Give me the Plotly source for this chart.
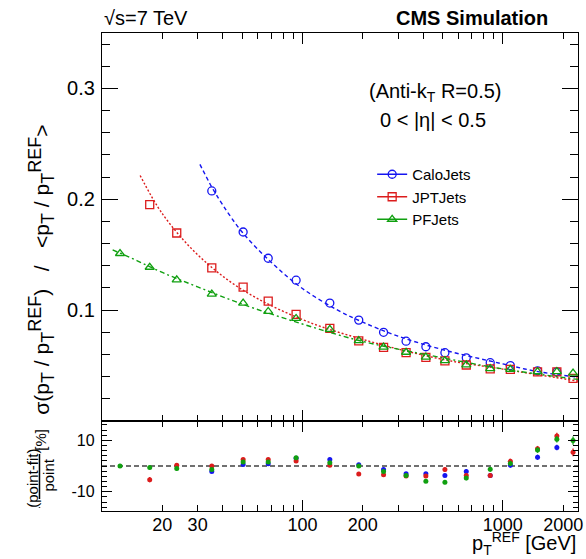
import plotly.graph_objects as go

# ---------------- data ----------------
pt_ref = [12.3, 17.3, 23.6, 35.3, 50.6, 67.5, 93, 137, 191, 254, 329, 413,
          514, 657, 865, 1090, 1490, 1860, 2240]

calo_pt = pt_ref[3:18]
calo_sigma = [0.2075, 0.1705, 0.1468, 0.127, 0.1064, 0.091, 0.080, 0.072,
              0.067, 0.0616, 0.057, 0.0526, 0.050, 0.0453, 0.0444]
calo_res = [-2.1, 0.6, 0.9, 3.0, 2.5, 0.5, -1.4, -3.0, -3.0, -3.7, -2.1,
            -3.7, 0.3, 3.4, 7.2]
calo_err = [0.6, 0.6, 0.6, 0.6, 0.6, 0.6, 0.6, 0.6, 0.7, 0.7, 0.8, 0.8,
            0.9, 1.0, 1.1]

jpt_pt = pt_ref[1:]
jpt_sigma = [0.1952, 0.1696, 0.1381, 0.1207, 0.1081, 0.0961, 0.0835, 0.0723,
             0.0664, 0.0616, 0.0574, 0.0543, 0.0505, 0.047, 0.0465, 0.0444,
             0.0444, 0.0384]
jpt_res = [-5.3, 0.3, 0.0, 2.5, 2.5, 1.9, 0.3, -3.1, -3.4, -3.9, -3.9, -1.4,
           -3.7, -3.7, 1.8, 6.7, 11.7, 5.3]
jpt_err = [1.0, 0.8, 0.6, 0.6, 0.6, 0.6, 0.6, 0.6, 0.6, 0.7, 0.7, 0.8,
           0.8, 0.9, 1.0, 1.1, 1.2, 1.5]

pf_pt = pt_ref
pf_sigma = [0.1511, 0.1387, 0.1273, 0.1144, 0.1063, 0.0988, 0.0925, 0.0826,
            0.0725, 0.0667, 0.062, 0.0576, 0.0545, 0.0507, 0.0472, 0.0466,
            0.0445, 0.0446, 0.0432]
pf_res = [0.0, -0.6, -1.0, -1.4, 1.6, 1.6, 3.2, 1.3, 0.0, -2.1, -3.7, -5.9,
          -6.3, -4.7, -1.3, 1.0, 6.2, 10.4, 9.9]
pf_err = [0.6, 0.7, 0.8, 0.6, 0.6, 0.6, 0.6, 0.6, 0.6, 0.6, 0.7, 0.7,
          0.8, 0.8, 0.9, 1.0, 1.1, 1.3, 1.6]

# fitted curves
calo_fit_pt = [30.8, 35.3, 40, 50, 70, 100, 150, 200, 300, 500, 1000, 1500, 2370]
calo_fit_sigma = [0.2315, 0.211, 0.195, 0.1705, 0.143, 0.1195, 0.100, 0.0892,
                  0.0765, 0.0644, 0.0515, 0.0445, 0.0395]
jpt_fit_pt = [15.5, 20, 30, 50, 100, 200, 500, 1000, 2370]
jpt_fit_sigma = [0.2215, 0.187, 0.150, 0.1185, 0.0915, 0.0736, 0.0556,
                 0.0468, 0.036]
pf_fit_pt = [11.3, 15, 20, 30, 50, 100, 200, 500, 1000, 2370]
pf_fit_sigma = [0.1543, 0.1445, 0.134, 0.121, 0.1055, 0.0875, 0.0718,
                0.0570, 0.047, 0.0375]

series_names = ["CaloJets", "JPTJets", "PFJets"]

x_major = [20, 30, 100, 200, 1000, 2000]
x_major_text = ["20", "30", "100", "200", "1000", "2000"]
x_minor = [40, 50, 60, 70, 80, 90, 300, 400, 500, 600, 700, 800, 900]
x_decades = [100, 1000]

# ---------------- styling ----------------
W, H = 586, 559
ML, MR, MT, MB = 102, 3, 33, 48
PW, PH = W - ML - MR, H - MT - MB
SPLIT = (511 - 421) / PH
FONT = "Liberation Sans, Arial, Helvetica, sans-serif"
BLUE, RED, GREEN = "#1515f0", "#dc1c1c", "#10a010"


def px(xp):
    return (xp - ML) / PW


def py(yp):
    return (H - MB - yp) / PH


fig = go.Figure()

styles = [
    (calo_pt, calo_sigma, calo_res, calo_err, calo_fit_pt, calo_fit_sigma,
     BLUE, "circle-open", "4px,3px"),
    (jpt_pt, jpt_sigma, jpt_res, jpt_err, jpt_fit_pt, jpt_fit_sigma,
     RED, "square-open", "2px,2px"),
    (pf_pt, pf_sigma, pf_res, pf_err, pf_fit_pt, pf_fit_sigma,
     GREEN, "triangle-up-open", "5px,3px,2px,3px"),
]

for name, (xs, ys, rs, es, fx, fy, col, sym, dash) in zip(series_names, styles):
    fig.add_trace(go.Scatter(x=fx, y=fy, mode="lines", xaxis="x", yaxis="y",
                             line=dict(color=col, width=1.4, dash=dash,
                                       shape="spline", smoothing=1.0),
                             showlegend=False, hoverinfo="skip"))
    fig.add_trace(go.Scatter(x=xs, y=ys, mode="markers", xaxis="x", yaxis="y",
                             marker=dict(symbol=sym, size=8, color=col,
                                         line=dict(width=1.3, color=col)),
                             showlegend=False, name=name))
    fig.add_trace(go.Scatter(x=[None], y=[None], mode="lines+markers",
                             xaxis="x", yaxis="y", name=name,
                             line=dict(color=col, width=1.3),
                             marker=dict(symbol=sym, size=8, color=col,
                                         line=dict(width=1.3, color=col))))

for name, (xs, ys, rs, es, fx, fy, col, sym, dash) in zip(series_names, styles):
    fig.add_trace(go.Scatter(x=xs, y=rs, mode="markers", xaxis="x2", yaxis="y2",
                             marker=dict(symbol="circle", size=5, color=col),
                             error_y=dict(type="data", array=es, color=col,
                                          thickness=1.3, width=0),
                             showlegend=False, name=name))

axis_common = dict(showline=True, linecolor="black", linewidth=1.3,
                   mirror="ticks", ticks="inside", tickcolor="black",
                   tickwidth=1.2, showgrid=False, zeroline=False)

xcommon = dict(type="log", range=[1.0, 3.375], tickvals=x_major,
               ticktext=x_major_text, ticklen=6,
               minor=dict(tickvals=x_minor, ticks="inside", ticklen=6,
                          tickcolor="black", tickwidth=1.2, showgrid=False),
               **axis_common)

fig.update_layout(
    width=W, height=H,
    margin=dict(l=ML, r=MR, t=MT, b=MB, pad=0),
    paper_bgcolor="white", plot_bgcolor="white",
    font=dict(family=FONT, color="black", size=18),
    xaxis=dict(domain=[0, 1], anchor="y", showticklabels=False, **xcommon),
    yaxis=dict(domain=[SPLIT, 1], anchor="x", range=[0, 0.35],
               tickvals=[0.1, 0.2, 0.3], ticktext=["0.1", "0.2", "0.3"],
               ticklen=16, tickfont=dict(size=20), ticklabelstandoff=2,
               minor=dict(dtick=0.02, ticks="inside", ticklen=8,
                          tickcolor="black", tickwidth=1.2, showgrid=False),
               **axis_common),
    xaxis2=dict(domain=[0, 1], anchor="y2", tickfont=dict(size=18),
                ticklabelstandoff=-3, ticklabeloverflow="allow", **xcommon),
    yaxis2=dict(domain=[0, SPLIT], anchor="x2", range=[-17.5, 17.5],
                tickvals=[-10, 10], ticktext=["-10", "10"], ticklen=10,
                tickfont=dict(size=16), ticklabelstandoff=3,
                minor=dict(dtick=2, tick0=0, ticks="inside", ticklen=5,
                           tickcolor="black", tickwidth=1.2, showgrid=False),
                **axis_common),
    xaxis3=dict(type="log", range=[1.0, 3.375], overlaying="x", anchor="y",
                tickvals=x_decades, showticklabels=False, ticks="inside",
                ticklen=11, tickcolor="black", tickwidth=1.2, mirror="ticks",
                showline=False, showgrid=False, zeroline=False),
    xaxis4=dict(type="log", range=[1.0, 3.375], overlaying="x2", anchor="y2",
                tickvals=x_decades, showticklabels=False, ticks="inside",
                ticklen=11, tickcolor="black", tickwidth=1.2, mirror="ticks",
                showline=False, showgrid=False, zeroline=False),
    legend=dict(x=px(375), y=py(158), xanchor="left", yanchor="top",
                bgcolor="rgba(0,0,0,0)", borderwidth=0,
                font=dict(size=15, family=FONT), itemwidth=30,
                tracegroupgap=0),
    showlegend=True,
)

# dummy traces so overlay axes get drawn
fig.add_trace(go.Scatter(x=[None], y=[None], xaxis="x3", yaxis="y",
                         showlegend=False, hoverinfo="skip"))
fig.add_trace(go.Scatter(x=[None], y=[None], xaxis="x4", yaxis="y2",
                         showlegend=False, hoverinfo="skip"))

fig.add_shape(type="line", xref="x2 domain", yref="y2", x0=0, x1=1, y0=0, y1=0,
              line=dict(color="#707070", width=2, dash="5px,3px"), layer="below")

NB = "\u00a0"
SUBT = "<sub><span style='font-size:18px'>T</span></sub>"
SUPR = "<sup><span style='font-size:18px'>REF</span></sup>"
ytitle = ("σ(p" + SUBT + NB + "/" + NB + "p" + SUBT + SUPR + ")" + NB * 2 +
          " / " + NB * 2 + "&lt;p" + SUBT + NB + "/" + NB + "p" + SUBT + SUPR +
          "&gt;")

ann = [
    dict(text="√s=7 TeV", x=px(102), y=py(18), xanchor="left", font=dict(size=20)),
    dict(text="<b>CMS Simulation</b>", x=px(555), y=py(18), xanchor="right",
         font=dict(size=20)),
    dict(text="(Anti-k<sub>T</sub> R=0.5)", x=px(439), y=py(92), xanchor="center",
         font=dict(size=20)),
    dict(text="0 &lt; |η| &lt; 0.5", x=px(436), y=py(120), xanchor="center",
         font=dict(size=20)),
    dict(text=ytitle, x=px(40), y=py(270), xanchor="center", textangle=-90,
         font=dict(size=21)),
    dict(text="p<sub>T</sub><sup>REF</sup> [GeV]", x=px(583), y=py(543),
         xanchor="right", font=dict(size=20)),
    dict(text="<u>(point-fit)</u>", x=px(31), y=py(478), xanchor="center",
         textangle=-90, font=dict(size=15)),
    dict(text="point", x=px(47), y=py(475), xanchor="center", textangle=-90,
         font=dict(size=15)),
    dict(text="[%]", x=px(39), y=py(440), xanchor="center", textangle=-90,
         font=dict(size=15)),
]
for a in ann:
    fig.add_annotation(xref="paper", yref="paper", showarrow=False,
                       yanchor="middle", **a)

fig.write_html("out.html", config={"displayModeBar": False},
               post_script="document.body.style.margin='0';"
                           "document.body.style.padding='0';")
